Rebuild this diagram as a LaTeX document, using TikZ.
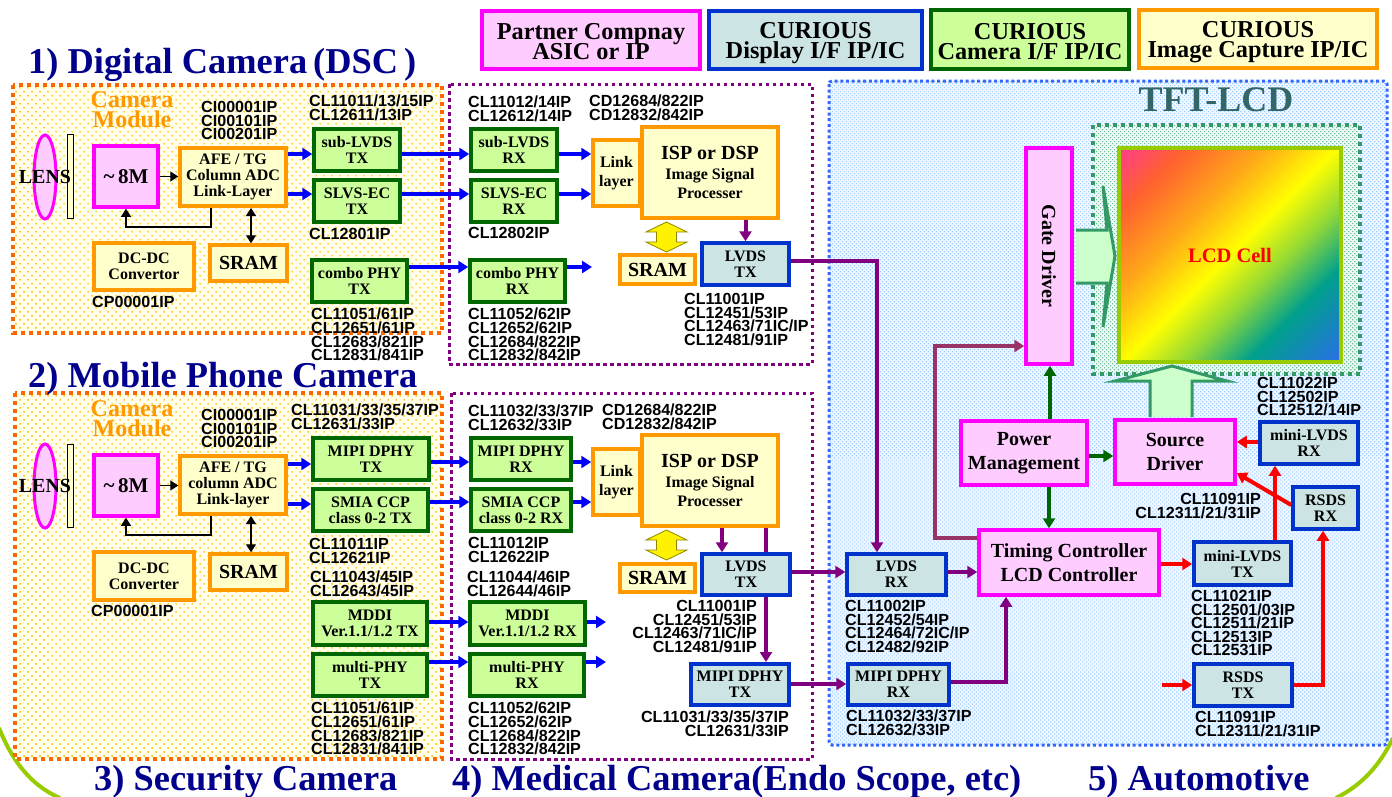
\documentclass[tikz,border=0pt]{standalone}
\usepackage{fontspec}
\setmainfont{Liberation Serif}
\setsansfont{Liberation Sans}
\usetikzlibrary{arrows.meta,patterns.meta,shapes.geometric}
\definecolor{navytitle}{RGB}{0,0,140}
\definecolor{pinkfill}{RGB}{255,204,255}
\definecolor{pinkline}{RGB}{255,0,255}
\definecolor{creamfill}{RGB}{255,255,204}
\definecolor{orangeline}{RGB}{255,153,0}
\definecolor{orangedash}{RGB}{255,102,0}
\definecolor{orangedot}{RGB}{255,204,51}
\definecolor{greenfill}{RGB}{204,255,153}
\definecolor{greenline}{RGB}{0,102,0}
\definecolor{tealfill}{RGB}{204,228,228}
\definecolor{blueline}{RGB}{0,51,204}
\definecolor{bluedash}{RGB}{51,102,255}
\definecolor{bluedot}{RGB}{153,204,255}
\definecolor{purpleline}{RGB}{128,0,128}
\definecolor{maroonline}{RGB}{153,51,102}
\definecolor{seagreen}{RGB}{51,153,102}
\definecolor{seadot}{RGB}{110,190,160}
\definecolor{limeline}{RGB}{153,204,0}
\definecolor{tfttext}{RGB}{51,102,102}
\definecolor{lcdA}{RGB}{255,60,140}
\definecolor{lcdB}{RGB}{255,96,48}
\definecolor{lcdC}{RGB}{255,168,24}
\definecolor{lcdD}{RGB}{255,255,0}
\definecolor{lcdE}{RGB}{144,216,56}
\definecolor{lcdF}{RGB}{0,160,140}
\definecolor{lcdG}{RGB}{42,110,232}
\pgfdeclarehorizontalshading{lcdgrad}{100bp}{color(0bp)=(lcdA); color(14.65bp)=(lcdA);
  color(25bp)=(lcdB); color(38bp)=(lcdC); color(50bp)=(lcdD); color(60bp)=(lcdE);
  color(70bp)=(lcdF); color(85.35bp)=(lcdG); color(100bp)=(lcdG)}
\newcommand{\fa}{\bfseries\fontsize{16}{16}\selectfont}
\newcommand{\fb}{\bfseries\fontsize{20}{24}\selectfont}
\newcommand{\fc}{\bfseries\fontsize{24.3}{20}\selectfont\lineskiplimit=-20pt\relax}
\newcommand{\fd}{\bfseries\fontsize{24}{20}\selectfont\lineskiplimit=-20pt\relax}
\newcommand{\ft}{\bfseries\fontsize{36.4}{36}\selectfont}
\newcommand{\fcode}{\sffamily\bfseries\fontsize{16.1}{13.6}\selectfont\lineskiplimit=-20pt\relax}
\tikzset{
  boxsize/.style 2 args={minimum width=#1, minimum height=#2},
  basebox/.style={draw, rectangle, line width=3.5pt, inner sep=0pt, align=center, text=black, font=\fa},
  pinkbox/.style={basebox, draw=pinkline, fill=pinkfill},
  creambox/.style={basebox, draw=orangeline, fill=creamfill},
  greenbox/.style={basebox, draw=greenline, fill=greenfill},
  tealbox/.style={basebox, draw=blueline, fill=tealfill},
  titletext/.style={anchor=base west, inner sep=0pt, text=navytitle, font=\ft},
  camtext/.style={inner sep=0pt, align=center, text=orangeline, font=\fd},
  codes/.style={anchor=north west, inner sep=0pt, align=left, font=\fcode},
  codesr/.style={anchor=north east, inner sep=0pt, align=right, font=\fcode},
  lensshape/.style={draw=pinkline, fill=pinkfill, ellipse, line width=3pt, minimum width=22, minimum height=84, inner sep=0pt},
  lenstext/.style={inner sep=0pt, font=\fb},
  lensbar/.style={draw=black, fill=creamfill, line width=1pt},
  orangepanel/.style={orangedash, line width=3.5pt, dash pattern=on 4pt off 4pt,
    preaction={fill=creamfill!40!white}, pattern={Dots[distance=5.66pt,angle=45,radius=1.1pt]}, pattern color=orangedot},
  purplepanel/.style={purpleline, line width=3pt, dash pattern=on 3.5pt off 3.5pt},
  bluepanel/.style={bluedash, line width=3pt, dash pattern=on 3pt off 2.7pt, rounded corners=3pt,
    preaction={fill=bluedot!15!white}, pattern={Dots[distance=2.83pt,angle=45,radius=0.8pt]}, pattern color=bluedot},
  greenpanel/.style={seagreen, line width=3.5pt, dash pattern=on 4pt off 4pt,
    preaction={fill=seadot!10!white}, pattern={Dots[distance=2.83pt,angle=45,radius=0.75pt]}, pattern color=seadot},
  fatarrow/.style={draw=seagreen, fill=green!20!white, line width=3pt, line join=miter},
  updown/.style={draw=olive, fill=yellow, line width=0.8pt},
  blackline/.style={black, line width=1.4pt, >={Triangle[length=8pt,width=10pt]}},
  blueline/.style={blue, line width=3.5pt},
  purpline/.style={purpleline, line width=4pt},
  maroon/.style={maroonline, line width=4pt},
  greenarrow/.style={greenline, line width=3.5pt},
  redarrow/.style={red, line width=4pt}
}
\begin{document}
\begin{tikzpicture}[x=1pt, y=-1pt, >={Triangle[length=10pt,width=12pt]}]
  \useasboundingbox (0,0) rectangle (1392,796);
  % --- rounded frame corners ---
  \draw[limeline, line width=4pt] (-1,728) .. controls (12,760) and (30,785) .. (60,798);
  \draw[limeline, line width=4pt] (1393,738) .. controls (1380,765) and (1362,785) .. (1336,798);
  % --- panels ---
  \draw[orangepanel] (13,85) rectangle (442,333);
  \draw[orangepanel] (15,393) rectangle (442,759);
  \draw[purplepanel] (449,84) rectangle (812,364);
  \draw[purplepanel] (451,393) rectangle (812,759);
  \draw[bluepanel] (829,81) rectangle (1387,745);
  \draw[greenpanel] (1093,125) rectangle (1360,374);
  % --- legend ---
  \node[pinkbox, boxsize={218}{58}, font=\fc] (legpartner) at (591,40) {\rule{0pt}{19pt}Partner Compnay\\ASIC or IP};
  \node[tealbox, boxsize={213}{58}, font=\fc] (legdisplay) at (815.5,40) {\rule{0pt}{22pt}CURIOUS\\Display I/F IP/IC};
  \node[greenbox, boxsize={198}{59}, font=\fc] (legcamera) at (1030,39.5) {\rule{0pt}{20pt}CURIOUS\\Camera I/F IP/IC};
  \node[creambox, boxsize={238}{58}, font=\fc] (legimage) at (1258,39) {\rule{0pt}{22pt}CURIOUS\\Image Capture IP/IC};
  % --- titles ---
  \node[titletext] (titleA) at (28,73) {1) Digital Camera\,(DSC\,)};
  \node[titletext] (titleB) at (28,387) {2) Mobile Phone Camera};
  \node[titletext] (titleC) at (94,790) {3) Security Camera};
  \node[titletext] (titleD) at (452,790) {4) Medical Camera(Endo Scope, etc)};
  \node[titletext] (titleE) at (1088,790) {5) Automotive};
  \node[inner sep=0pt, text=tfttext, font=\bfseries\fontsize{36}{36}\selectfont] (tftlcd) at (1216,100) {TFT-LCD};
  % --- connectors behind the boxes ---
  \draw[purpline, ->] (766,528) -- (766,662);
  % --- 1) camera module ---
  \draw[lensbar] (67,134) rectangle (73,218);
  \node[lensshape] (lensA) at (45,177) {};
  \node[lenstext] (lenstextA) at (lensA) {LENS};
  \node[camtext] (camA) at (132,110) {Camera\\Module};
  \node[pinkbox, boxsize={64}{61}, font=\bfseries\fontsize{21}{24}\selectfont] (sensA) at (126,176.5) {\textasciitilde\,8M};
  \node[creambox, boxsize={106}{58}] (afeA) at (233,177) {AFE / TG\\Column ADC\\Link-Layer};
  \node[creambox, boxsize={100}{47}] (dcdcA) at (144,266.5) {DC-DC\\Convertor};
  \node[creambox, boxsize={77}{36}, font=\fb] (sramA) at (248.5,263) {SRAM};
  \node[greenbox, boxsize={86}{42}] (subtx) at (357,150) {sub-LVDS\\TX};
  \node[greenbox, boxsize={86}{42}] (slvstx) at (357,201) {SLVS-EC\\TX};
  \node[greenbox, boxsize={95}{42}] (combotx) at (359.5,281) {combo PHY\\TX};
  % --- 1) receiver side ---
  \node[greenbox, boxsize={86}{42}] (subrx) at (514,150) {sub-LVDS\\RX};
  \node[greenbox, boxsize={86}{42}] (slvsrx) at (514,201) {SLVS-EC\\RX};
  \node[greenbox, boxsize={95}{42}] (comborx) at (517.5,281) {combo PHY\\RX};
  \node[creambox, boxsize={47}{66}] (linkA) at (616.5,173) {Link\\[3pt]layer};
  \node[creambox, boxsize={136}{91}] (ispA) at (710,172.5) {{\fb ISP or DSP}\\[4pt]Image Signal\\[3pt]Processer};
  \node[creambox, boxsize={75}{29}, font=\fb] (sramB) at (657.5,269.5) {SRAM};
  \node[tealbox, boxsize={87}{42}] (lvdstxA) at (745.5,264) {LVDS\\TX};
  \draw[updown, shift={(666.5,237)}] (0,-15) -- (20.5,-5) -- (10,-5) -- (10,5) -- (20.5,5) -- (0,15) -- (-20.5,5) -- (-10,5) -- (-10,-5) -- (-20.5,-5) -- cycle;
  % --- 2) camera module ---
  \draw[lensbar] (67,444) rectangle (73,527);
  \node[lensshape] (lensB) at (45,486) {};
  \node[lenstext] (lenstextB) at (lensB) {LENS};
  \node[camtext] (camB) at (132,419) {Camera\\Module};
  \node[pinkbox, boxsize={64}{61}, font=\bfseries\fontsize{21}{24}\selectfont] (sensB) at (126,485.5) {\textasciitilde\,8M};
  \node[creambox, boxsize={106}{58}] (afeB) at (233,485) {AFE / TG\\column ADC\\Link-layer};
  \node[creambox, boxsize={100}{48}] (dcdcB) at (144,576) {DC-DC\\Converter};
  \node[creambox, boxsize={77}{36}, font=\fb] (sramC) at (248.5,572) {SRAM};
  \node[greenbox, boxsize={116}{42}] (mipitx) at (371,459) {MIPI DPHY\\TX};
  \node[greenbox, boxsize={115}{42}] (smiatx) at (370.5,510) {SMIA CCP\\class 0-2 TX};
  \node[greenbox, boxsize={114}{43}] (mdditx) at (370,623.5) {MDDI\\Ver.1.1/1.2 TX};
  \node[greenbox, boxsize={114}{42}] (multitx) at (370,675) {multi-PHY\\TX};
  % --- 2) receiver side ---
  \node[greenbox, boxsize={100}{42}] (mipirx) at (521,459) {MIPI DPHY\\RX};
  \node[greenbox, boxsize={100}{42}] (smiarx) at (521,510) {SMIA CCP\\class 0-2 RX};
  \node[greenbox, boxsize={115}{43}] (mddirx) at (527.5,623.5) {MDDI\\Ver.1.1/1.2 RX};
  \node[greenbox, boxsize={114}{42}] (multirx) at (527,675) {multi-PHY\\RX};
  \node[creambox, boxsize={47}{66}] (linkB) at (616.5,482) {Link\\[3pt]layer};
  \node[creambox, boxsize={136}{91}] (ispB) at (710,480.5) {{\fb ISP or DSP}\\[4pt]Image Signal\\[3pt]Processer};
  \node[creambox, boxsize={75}{28}, font=\fb] (sramD) at (657.5,578) {SRAM};
  \node[tealbox, boxsize={88}{41}] (lvdstxB) at (746,574.5) {LVDS\\TX};
  \node[tealbox, boxsize={98}{41}] (mipitxB) at (740,684.5) {MIPI DPHY\\TX};
  \draw[updown, shift={(666.5,545)}] (0,-15) -- (20.5,-5) -- (10,-5) -- (10,5) -- (20.5,5) -- (0,15) -- (-20.5,5) -- (-10,5) -- (-10,-5) -- (-20.5,-5) -- cycle;
  % --- fat arrows to the cell ---
  \draw[fatarrow] (1076,230) -- (1107,230) -- (1103,186) -- (1115,256) -- (1103,327) -- (1107,283) -- (1076,283);
  \draw[fatarrow] (1150,417) -- (1150,381) -- (1115,381) -- (1172,366) -- (1227,381) -- (1192,381) -- (1192,417);
  % --- TFT-LCD side ---
  \node[pinkbox, boxsize={46}{216}] (gate) at (1049,256) {};
  \node[rotate=-90, inner sep=0pt, font=\fb] (gatetext) at (gate) {Gate Driver};
  \node[draw=limeline, line width=4pt, rectangle, shading=lcdgrad, shading angle=-45, boxsize={222}{214}, text=red, font=\bfseries\fontsize{20.5}{24}\selectfont] (lcd) at (1230,255) {LCD Cell};
  \node[tealbox, boxsize={99}{41}] (lvdsrx) at (896.5,574.5) {LVDS\\RX};
  \node[tealbox, boxsize={101}{41}] (mipirxB) at (898.5,684.5) {MIPI DPHY\\RX};
  \node[pinkbox, boxsize={180}{65}, font=\fb] (timing) at (1069,562.5) {Timing Controller\\LCD Controller};
  \node[pinkbox, boxsize={126}{64}, font=\fb] (power) at (1024,453) {Power\\Management};
  \node[pinkbox, boxsize={120}{64}, font=\fb] (source) at (1175,452) {Source\\Driver};
  \node[tealbox, boxsize={98}{42}] (minirx) at (1309,443) {mini-LVDS\\RX};
  \node[tealbox, boxsize={65}{42}] (rsdsrx) at (1325.5,508) {RSDS\\RX};
  \node[tealbox, boxsize={97}{43}] (minitx) at (1242.5,563.5) {mini-LVDS\\TX};
  \node[tealbox, boxsize={98}{42}] (rsdstx) at (1243,685) {RSDS\\TX};
  % --- free ends ---
  \coordinate (comboend) at (592,267);
  \coordinate (mddiend) at (606,622);
  \coordinate (multiend) at (606,662);
  \coordinate (rsdsstart) at (1162,685);
  % --- black connectors ---
  \draw[blackline, ->] (sensA.east) -- (afeA.west |- sensA.east);
  \draw[blackline, ->] (afeA.south -| 211,0) -- (211,227) -- (126,227) -- (sensA.south);
  \draw[blackline, <->] (251,208) -- (sramA.north -| 251,0);
  \draw[blackline, ->] (sensB.east) -- (afeB.west |- sensB.east);
  \draw[blackline, ->] (afeB.south -| 211,0) -- (211,535) -- (126,535) -- (sensB.south);
  \draw[blackline, <->] (251,516) -- (sramC.north -| 251,0);
  % --- blue connectors ---
  \draw[blueline, ->] (afeA.east |- 0,154) -- (subtx.west |- 0,154);
  \draw[blueline, ->] (afeA.east |- 0,194) -- (slvstx.west |- 0,194);
  \draw[blueline, ->] (subtx.east |- 0,154) -- (subrx.west |- 0,154);
  \draw[blueline, ->] (slvstx.east |- 0,194) -- (slvsrx.west |- 0,194);
  \draw[blueline, ->] (combotx.east |- 0,267) -- (comborx.west |- 0,267);
  \draw[blueline, ->] (subrx.east |- 0,154) -- (linkA.west |- 0,154);
  \draw[blueline, ->] (slvsrx.east |- 0,194) -- (linkA.west |- 0,194);
  \draw[blueline, ->] (comborx.east |- 0,267) -- (comboend);
  \draw[blueline, ->] (afeB.east |- 0,464) -- (mipitx.west |- 0,464);
  \draw[blueline, ->] (afeB.east |- 0,504) -- (smiatx.west |- 0,504);
  \draw[blueline, ->] (mipitx.east |- 0,462) -- (mipirx.west |- 0,462);
  \draw[blueline, ->] (smiatx.east |- 0,502) -- (smiarx.west |- 0,502);
  \draw[blueline, ->] (mdditx.east |- 0,622) -- (mddirx.west |- 0,622);
  \draw[blueline, ->] (multitx.east |- 0,662) -- (multirx.west |- 0,662);
  \draw[blueline, ->] (mipirx.east |- 0,462) -- (linkB.west |- 0,462);
  \draw[blueline, ->] (smiarx.east |- 0,502) -- (linkB.west |- 0,502);
  \draw[blueline, ->] (mddirx.east |- 0,622) -- (mddiend);
  \draw[blueline, ->] (multirx.east |- 0,662) -- (multiend);
  % --- purple connectors ---
  \draw[purpline, ->] (ispA.south -| lvdstxA.north) -- (lvdstxA.north);
  \draw[purpline, ->] (lvdstxA.east |- 0,261) -- (877,261) -- (lvdsrx.north -| 877,0);
  \draw[purpline, ->] (ispB.south -| 722,0) -- (lvdstxB.north -| 722,0);
  \draw[purpline, ->] (lvdstxB.east |- 0,572) -- (lvdsrx.west |- 0,572);
  \draw[purpline, ->] (mipitxB.east |- 0,684) -- (mipirxB.west |- 0,684);
  \draw[purpline, ->] (lvdsrx.east |- 0,572) -- (timing.west |- 0,572);
  \draw[purpline, ->] (mipirxB.east |- 0,682) -- (1006,682) -- (timing.south -| 1006,0);
  \draw[maroon, ->] (timing.west |- 0,538) -- (935,538) -- (935,346) -- (gate.west |- 0,346);
  % --- green connectors ---
  \draw[greenarrow, ->] (power.north -| 1050,0) -- (gate.south -| 1050,0);
  \draw[greenarrow, ->] (power.east |- 0,456) -- (source.west |- 0,456);
  \draw[greenarrow, ->] (power.south -| 1049,0) -- (timing.north -| 1049,0);
  % --- red connectors ---
  \draw[redarrow, ->] (timing.east |- 0,564) -- (minitx.west |- 0,564);
  \draw[redarrow, ->] (minitx.north -| 1275,0) -- (minirx.south -| 1275,0);
  \draw[redarrow, ->] (minirx.west |- 0,442) -- (source.east |- 0,442);
  \draw[redarrow, ->] (rsdsrx.west |- 0,505) -- (source.east |- 0,473);
  \draw[redarrow, ->] (rsdstx.east) -- (1323,685) -- (rsdsrx.south -| 1323,0);
  \draw[redarrow, ->] (rsdsstart) -- (rsdstx.west);
  % --- part numbers, 1) ---
  \node[codes] (cdA) at (201,101) {CI00001IP\\CI00101IP\\CI00201IP};
  \node[codes] (cdB) at (309,95) {CL11011/13/15IP\\CL12611/13IP};
  \node[codes] (cdC) at (309,228) {CL12801IP};
  \node[codes] (cdD) at (311,308) {CL11051/61IP\\CL12651/61IP\\CL12683/821IP\\CL12831/841IP};
  \node[codes] (cdE) at (92,296) {CP00001IP};
  \node[codes] (cdF) at (468,96) {CL11012/14IP\\CL12612/14IP};
  \node[codes] (cdG) at (589,95) {CD12684/822IP\\CD12832/842IP};
  \node[codes] (cdH) at (468,227) {CL12802IP};
  \node[codes] (cdI) at (468,308) {CL11052/62IP\\CL12652/62IP\\CL12684/822IP\\CL12832/842IP};
  \node[codes] (cdJ) at (684,293) {CL11001IP\\CL12451/53IP\\CL12463/71IC/IP\\CL12481/91IP};
  % --- part numbers, 2) ---
  \node[codes] (cdK) at (201,409) {CI00001IP\\CI00101IP\\CI00201IP};
  \node[codes] (cdL) at (291,404) {CL11031/33/35/37IP\\CL12631/33IP};
  \node[codes] (cdM) at (309,538) {CL11011IP\\CL12621IP};
  \node[codes] (cdN) at (310,571) {CL11043/45IP\\CL12643/45IP};
  \node[codes] (cdO) at (311,702) {CL11051/61IP\\CL12651/61IP\\CL12683/821IP\\CL12831/841IP};
  \node[codes] (cdP) at (91,605) {CP00001IP};
  \node[codes] (cdQ) at (468,405) {CL11032/33/37IP\\CL12632/33IP};
  \node[codes] (cdR) at (602,404) {CD12684/822IP\\CD12832/842IP};
  \node[codes] (cdS) at (468,537) {CL11012IP\\CL12622IP};
  \node[codes] (cdT) at (467,571) {CL11044/46IP\\CL12644/46IP};
  \node[codes] (cdU) at (468,702) {CL11052/62IP\\CL12652/62IP\\CL12684/822IP\\CL12832/842IP};
  \node[codesr] (cdV) at (757,600) {CL11001IP\\CL12451/53IP\\CL12463/71IC/IP\\CL12481/91IP};
  \node[codesr] (cdW) at (789,711) {CL11031/33/35/37IP\\CL12631/33IP};
  % --- part numbers, panel ---
  \node[codes] (cdX) at (845,600) {CL11002IP\\CL12452/54IP\\CL12464/72IC/IP\\CL12482/92IP};
  \node[codes] (cdY) at (846,710) {CL11032/33/37IP\\CL12632/33IP};
  \node[codes] (cdZ) at (1257,377) {CL11022IP\\CL12502IP\\CL12512/14IP};
  \node[codesr] (cdAA) at (1261,493) {CL11091IP\\CL12311/21/31IP};
  \node[codes] (cdAB) at (1191,590) {CL11021IP\\CL12501/03IP\\CL12511/21IP\\CL12513IP\\CL12531IP};
  \node[codes] (cdAC) at (1195,711) {CL11091IP\\CL12311/21/31IP};
\end{tikzpicture}
\end{document}
